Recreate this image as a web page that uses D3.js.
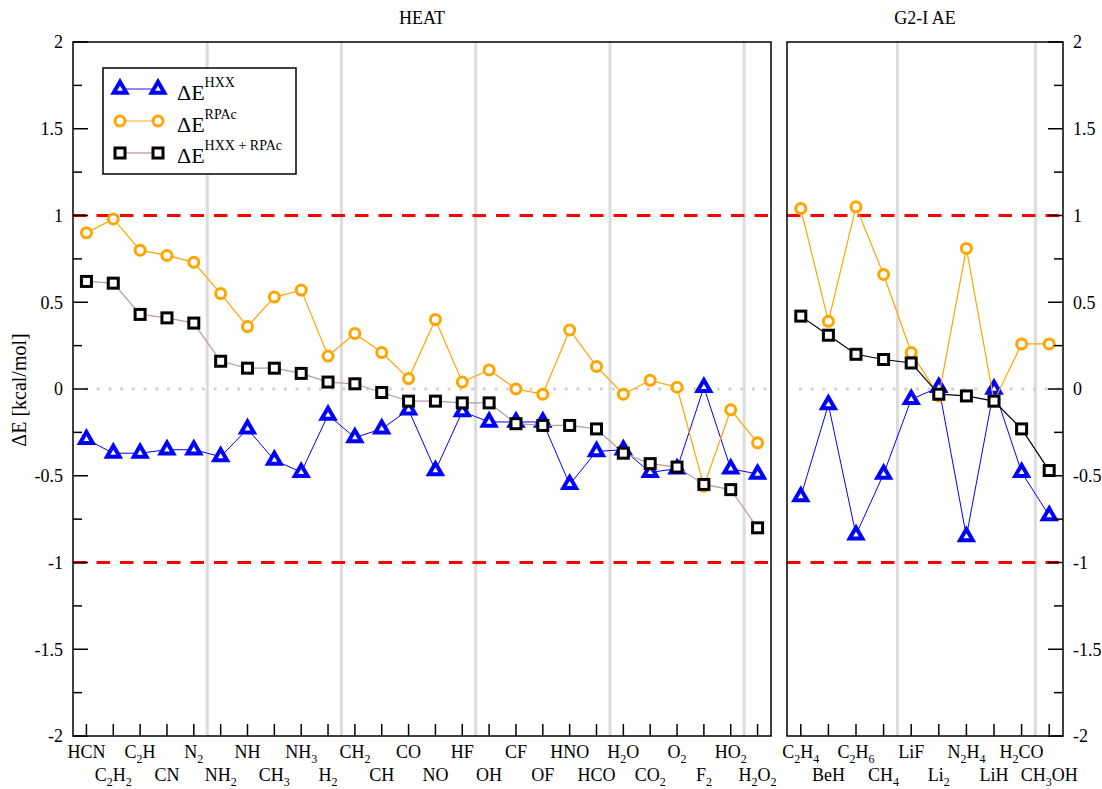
<!DOCTYPE html>
<html>
<head>
<meta charset="utf-8">
<script src="https://cdn.jsdelivr.net/npm/d3@7"></script>
<style>
body { margin: 0; background: #fff; }
svg { font-family: "Liberation Serif", "Times New Roman", serif; }
</style>
</head>
<body>
<svg id="chart" width="1102" height="789"></svg>
<script>
// HEAT set
var heatLabels = ["HCN","C2H2","C2H","CN","N2","NH2","NH","CH3","NH3","H2","CH2","CH","CO",
                  "NO","HF","OH","CF","OF","HNO","HCO","H2O","CO2","O2","F2","HO2","H2O2"];
var heatHXX = [-0.29,-0.37,-0.37,-0.35,-0.35,-0.39,-0.23,-0.41,-0.48,-0.15,-0.28,-0.23,-0.12,
               -0.47,-0.13,-0.19,-0.19,-0.19,-0.55,-0.36,-0.35,-0.48,-0.46,0.01,-0.46,-0.49];
var heatRPA = [0.90,0.98,0.80,0.77,0.73,0.55,0.36,0.53,0.57,0.19,0.32,0.21,0.06,
               0.40,0.04,0.11,0.00,-0.03,0.34,0.13,-0.03,0.05,0.01,-0.56,-0.12,-0.31];
var heatSum = [0.62,0.61,0.43,0.41,0.38,0.16,0.12,0.12,0.09,0.04,0.03,-0.02,-0.07,
               -0.07,-0.08,-0.08,-0.20,-0.21,-0.21,-0.23,-0.37,-0.43,-0.45,-0.55,-0.58,-0.80];

// G2-I atomisation energies
var g2Labels = ["C2H4","BeH","C2H6","CH4","LiF","Li2","N2H4","LiH","H2CO","CH3OH"];
var g2HXX = [-0.62,-0.09,-0.84,-0.49,-0.06,0.01,-0.85,0.00,-0.48,-0.73];
var g2RPA = [1.04,0.39,1.05,0.66,0.21,-0.04,0.81,-0.07,0.26,0.26];
var g2Sum = [0.42,0.31,0.20,0.17,0.15,-0.03,-0.04,-0.07,-0.23,-0.47];

var yTicks = [2,1.5,1,0.5,0,-0.5,-1,-1.5,-2];

var svg = d3.select("#chart");
var yTop = 42, yBot = 736;

var y = d3.scaleLinear().domain([-2, 2]).range([yBot, yTop]);
var xL = d3.scaleLinear().domain([0, heatLabels.length]).range([73, 771]);
var xR = d3.scaleLinear().domain([0, g2Labels.length]).range([787, 1063]);

var triSym = d3.symbol(d3.symbolTriangle, 70);

// writes a formula with the digits as subscripts
function formula(sel, s) {
    var parts = s.match(/\d+|\D+/g);
    var low = false;
    parts.forEach(function(p) {
        var sub = /\d/.test(p);
        var t = sel.append("tspan").text(p);
        if (sub) { t.attr("font-size", 12).attr("dy", low ? 0 : 5); low = true; }
        else if (low) { t.attr("dy", -5); low = false; }
    });
}

function panel(x, labels, hxx, rpa, sum, greys, sumLine) {
    var x0 = x.range()[0], x1 = x.range()[1];
    var g = svg.append("g");

    // grey separators
    g.selectAll(".sep").data(greys).enter().append("line")
        .attr("x1", d => x(d)).attr("x2", d => x(d))
        .attr("y1", yTop).attr("y2", yBot)
        .attr("stroke", "#dcdcdc").attr("stroke-width", 3);

    // zero line and +-1 limits
    g.append("line").attr("x1", x0 + 12).attr("x2", x1).attr("y1", y(0)).attr("y2", y(0))
        .attr("stroke", "#d3d3d3").attr("stroke-width", 3).attr("stroke-dasharray", "3,8.7");
    [1, -1].forEach(function(v) {
        g.append("line").attr("x1", x0).attr("x2", x1).attr("y1", y(v)).attr("y2", y(v))
            .attr("stroke", "#ff0000").attr("stroke-width", 3).attr("stroke-dasharray", "13.5,10");
    });

    // bottom ticks + labels
    labels.forEach(function(l, i) {
        var px = x(i + 0.5);
        g.append("line").attr("x1", px).attr("x2", px).attr("y1", yBot).attr("y2", yBot - 12)
            .attr("stroke", "#000").attr("stroke-width", 1.5);
        var t = g.append("text").attr("x", px).attr("y", i % 2 == 0 ? 758 : 781)
            .attr("text-anchor", "middle").attr("font-size", 18);
        formula(t, l);
    });

    // frame
    g.append("rect").attr("x", x0).attr("y", yTop).attr("width", x1 - x0).attr("height", yBot - yTop)
        .attr("fill", "none").attr("stroke", "#000").attr("stroke-width", 1.5);

    var line = d3.line().x((d, i) => x(i + 0.5)).y(d => y(d));

    g.append("path").attr("d", line(hxx)).attr("fill", "none").attr("stroke", "#0000ff").attr("stroke-width", 1);
    g.selectAll(".tri").data(hxx).enter().append("path")
        .attr("d", triSym)
        .attr("transform", (d, i) => "translate(" + x(i + 0.5) + "," + y(d) + ")")
        .attr("fill", "#fff").attr("stroke", "#0000ff").attr("stroke-width", 4)
        .attr("stroke-linejoin", "miter");

    g.append("path").attr("d", line(rpa)).attr("fill", "none").attr("stroke", "#ffa500").attr("stroke-width", 1.2);
    g.selectAll(".circ").data(rpa).enter().append("circle")
        .attr("cx", (d, i) => x(i + 0.5)).attr("cy", d => y(d)).attr("r", 5)
        .attr("fill", "#fff").attr("stroke", "#ffa500").attr("stroke-width", 3);

    g.append("path").attr("d", line(sum)).attr("fill", "none").attr("stroke", sumLine).attr("stroke-width", 1.2);
    g.selectAll(".sq").data(sum).enter().append("rect")
        .attr("x", (d, i) => x(i + 0.5) - 5).attr("y", d => y(d) - 5)
        .attr("width", 10).attr("height", 10)
        .attr("fill", "#fff").attr("stroke", "#000").attr("stroke-width", 3);
    return g;
}

panel(xL, heatLabels, heatHXX, heatRPA, heatSum, [5, 10, 15, 20, 25], "#bc9a9a");
panel(xR, g2Labels, g2HXX, g2RPA, g2Sum, [4, 9], "#000");

// y axes: left of HEAT, right of G2
var minor = d3.range(-2, 2.01, 0.25);
minor.forEach(function(v) {
    var major = Math.abs(v * 2 - Math.round(v * 2)) < 1e-6;
    var len = major ? 15 : 9;
    svg.append("line").attr("x1", 73).attr("x2", 73 + len).attr("y1", y(v)).attr("y2", y(v))
        .attr("stroke", "#000").attr("stroke-width", 1.5);
    svg.append("line").attr("x1", 1063).attr("x2", 1063 - len).attr("y1", y(v)).attr("y2", y(v))
        .attr("stroke", "#000").attr("stroke-width", 1.5);
});
yTicks.forEach(function(v) {
    svg.append("text").attr("x", 63).attr("y", y(v)).attr("dy", "0.35em")
        .attr("text-anchor", "end").attr("font-size", 18).text(v);
    svg.append("text").attr("x", 1073).attr("y", y(v)).attr("dy", "0.35em")
        .attr("text-anchor", "start").attr("font-size", 18).text(v);
});

// titles
svg.append("text").attr("x", (xL.range()[0] + xL.range()[1]) / 2).attr("y", 24)
    .attr("text-anchor", "middle").attr("font-size", 18).text("HEAT");
svg.append("text").attr("x", (xR.range()[0] + xR.range()[1]) / 2).attr("y", 24)
    .attr("text-anchor", "middle").attr("font-size", 18).text("G2-I AE");
svg.append("text").attr("transform", "translate(26,390) rotate(-90)")
    .attr("text-anchor", "middle").attr("font-size", 20).text("ΔE [kcal/mol]");

// legend
var leg = svg.append("g");
leg.append("rect").attr("x", 103).attr("y", 68).attr("width", 193).attr("height", 106)
    .attr("fill", "#fff").attr("stroke", "#000").attr("stroke-width", 1.5);
var legItems = [
    {sup: "HXX", color: "#0000ff", line: "#6666ff", mark: "tri", ly: 89, ty: 100},
    {sup: "RPAc", color: "#ffa500", line: "#ffc966", mark: "circ", ly: 121, ty: 132},
    {sup: "HXX + RPAc", color: "#000", line: "#c9a9a9", mark: "sq", ly: 153, ty: 163}
];
legItems.forEach(function(it) {
    leg.append("line").attr("x1", 120).attr("x2", 158).attr("y1", it.ly).attr("y2", it.ly)
        .attr("stroke", it.line).attr("stroke-width", 1.5);
    [120, 158].forEach(function(px) {
        if (it.mark == "tri") {
            leg.append("path").attr("d", triSym)
                .attr("transform", "translate(" + px + "," + it.ly + ")")
                .attr("fill", "#fff").attr("stroke", it.color).attr("stroke-width", 4);
        } else if (it.mark == "circ") {
            leg.append("circle").attr("cx", px).attr("cy", it.ly).attr("r", 5)
                .attr("fill", "#fff").attr("stroke", it.color).attr("stroke-width", 3);
        } else {
            leg.append("rect").attr("x", px - 5).attr("y", it.ly - 5).attr("width", 10).attr("height", 10)
                .attr("fill", "#fff").attr("stroke", it.color).attr("stroke-width", 3);
        }
    });
    var t = leg.append("text").attr("x", 177).attr("y", it.ty).attr("font-size", 22);
    t.append("tspan").text("ΔE");
    t.append("tspan").attr("font-size", 14).attr("dy", -13).text(it.sup);
});
</script>
</body>
</html>
